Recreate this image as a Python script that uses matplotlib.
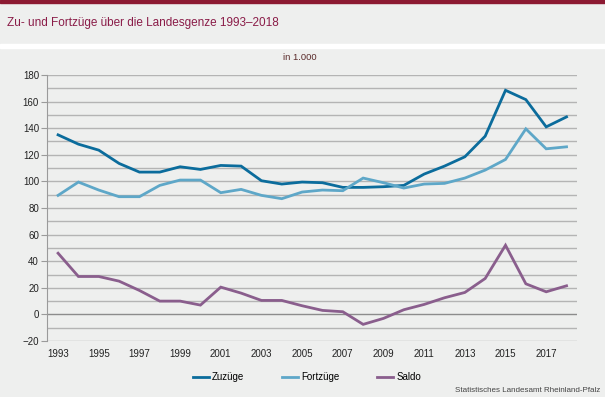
import matplotlib

matplotlib.use("Agg")
import matplotlib.pyplot as plt
from matplotlib.patches import Rectangle

plt.rcParams["font.family"] = ["Liberation Sans", "DejaVu Sans"]

YEARS = list(range(1993, 2019))
ZUZUEGE = [135, 128, 123.5, 113.5, 107, 107, 111, 109, 112, 111.5, 100.5, 98, 99.5, 99,
           95.5, 95.5, 96, 97, 105.5, 111.5, 118.5, 134, 168.5, 161.5, 141, 148.5]
FORTZUEGE = [89.5, 99.5, 93.5, 88.5, 88.5, 97, 101, 101, 91.5, 94, 89.5, 87, 92, 93.5,
             93, 102.5, 99, 95, 98, 98.5, 102.5, 108.5, 116.5, 139.5, 124.5, 126]
SALDO = [46, 28.5, 28.5, 25, 18, 10, 10, 7, 20.5, 16, 10.5, 10.5, 6.5, 3,
         2, -7.5, -3, 3.5, 7.5, 12.5, 16.5, 27, 52, 23, 17, 21.5]

SERIES = ["Zuzüge", "Fortzüge", "Saldo"]
COLORS = ["#0b6c9c", "#5ea7c8", "#8a5e8d"]
BG = "#eeefee"
GRID = "#b4b4b4"

fig = plt.figure(figsize=(6.05, 3.97), dpi=100, facecolor=BG)

# header decoration: red strip on top, white gap under title band
fig.patches.append(Rectangle((0, 1 - 3 / 397), 1, 3 / 397, transform=fig.transFigure,
                             color="#8c1a32", zorder=0))
fig.patches.append(Rectangle((0, 1 - 48 / 397), 1, 4 / 397, transform=fig.transFigure,
                             color="white", zorder=0))

fig.text(7 / 605, 1 - 23 / 397, "Zu- und Fortzüge über die Landesgenze 1993–2018",
         fontsize=8.45, color="#8a1c48", va="center", ha="left")
fig.text(300 / 605, 1 - 58 / 397, "in 1.000", fontsize=6.8, color="#5a2a2a",
         va="center", ha="center")

ax = fig.add_axes([47.3 / 605, 1 - 341 / 397, (576.7 - 47.3) / 605, (341 - 75) / 397])
ax.set_facecolor(BG)

for y in range(-20, 181, 10):
    ax.axhline(y, color="#8c8c8c" if y == 0 else GRID, linewidth=1.0, zorder=1)

for vals, name, color in zip([ZUZUEGE, FORTZUEGE, SALDO], SERIES, COLORS):
    ax.plot(YEARS, vals, color=color, linewidth=2.0, label=name, zorder=3,
            solid_joinstyle="miter")

ax.set_xlim(1992.47, 2018.5)
ax.set_ylim(-20, 180)
ax.set_yticks(range(-20, 181, 20))
ax.set_xticks(YEARS[::2])
for s in ["top", "right", "bottom"]:
    ax.spines[s].set_visible(False)
ax.spines["left"].set_color("#9a9a9a")
ax.tick_params(axis="y", length=4, color="#9a9a9a", labelsize=7, pad=2, labelcolor="#222222")
ax.tick_params(axis="x", length=0, labelsize=7, pad=6, labelcolor="#222222")

fig.legend(loc="center", bbox_to_anchor=(307 / 605, 1 - 377 / 397), ncol=3, frameon=False,
           fontsize=7, handlelength=1.65, handletextpad=0.3, columnspacing=3.9)

fig.text(600 / 605, 1 - 390 / 397, "Statistisches Landesamt Rheinland-Pfalz",
         fontsize=5.8, color="#444444", ha="right", va="center")

fig.savefig("out.png", dpi=100, facecolor=BG)
